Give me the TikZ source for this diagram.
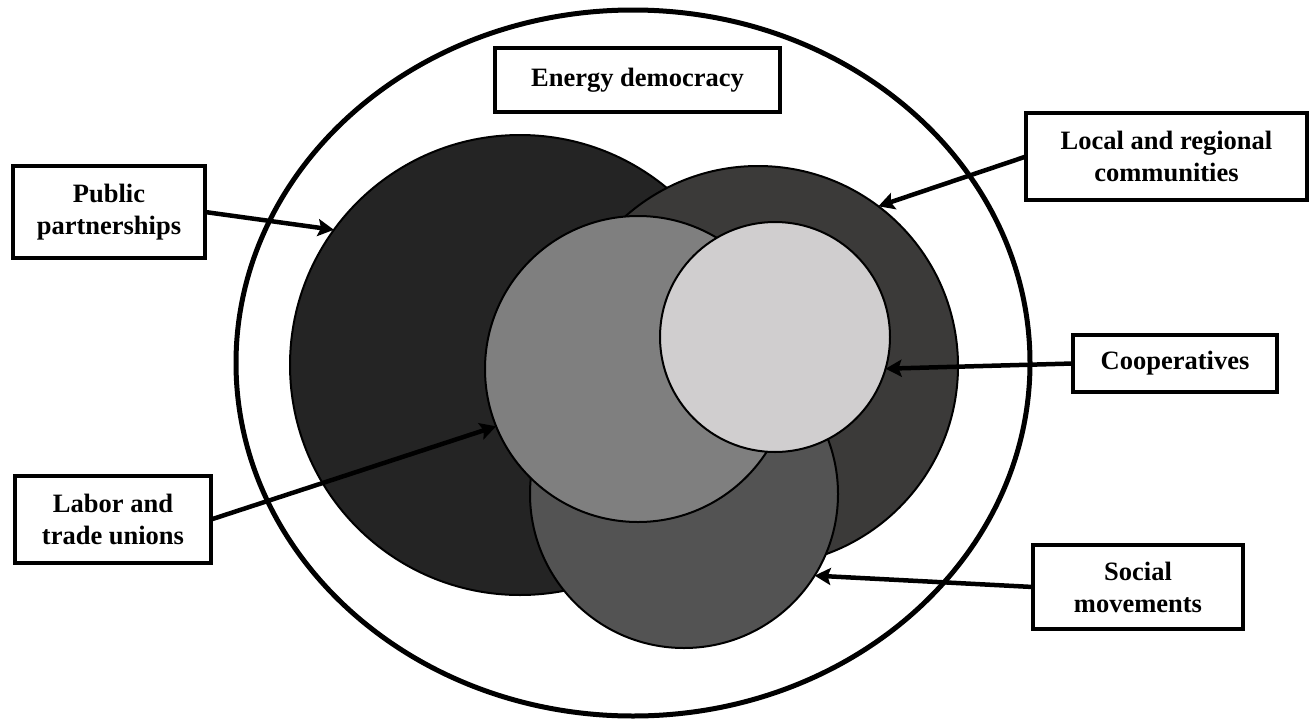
\documentclass[tikz,border=0pt]{standalone}
\usepackage{fontspec}
\setmainfont{Liberation Serif}
\usetikzlibrary{arrows.meta,shapes.geometric}
\definecolor{cpub}{HTML}{242424}
\definecolor{cloc}{HTML}{3B3A39}
\definecolor{csoc}{HTML}{535353}
\definecolor{clab}{HTML}{7F7F7F}
\definecolor{ccoop}{HTML}{D0CECF}
\tikzset{
  label box/.style={draw, line width=3.5pt, fill=white, inner sep=0pt, outer sep=0pt,
    align=center, font=\bfseries\fontsize{26.5}{32}\selectfont},
  disc/.style={circle, draw, line width=2pt, inner sep=0pt, outer sep=0pt},
  pointer/.style={line width=4.5pt, -{Stealth[length=16pt,width=17pt,inset=3pt]}},
}
\begin{document}
\begin{tikzpicture}[x=1pt,y=-1pt]
\useasboundingbox (0,0) rectangle (1312,723);
% outer ellipse
\node[ellipse, draw, line width=5pt, inner sep=0pt, minimum width=794pt, minimum height=706pt] (ed) at (633,363) {};
% circles
\node[disc, fill=cpub, minimum size=460pt] (pub) at (520,365) {};
\node[disc, fill=cloc, minimum size=400pt] (loc) at (758,366) {};
\node[disc, fill=csoc, minimum size=308pt] (soc) at (684,494) {};
\node[disc, fill=clab, minimum size=306pt] (lab) at (638,369) {};
\node[disc, fill=ccoop, minimum size=230pt] (coop) at (775,337) {};
% boxes
\node[label box, minimum width=285pt, minimum height=64pt] (bed) at (637.5,80) {Energy democracy};
\node[label box, minimum width=192pt, minimum height=92pt] (bpub) at (109,212) {Public\\partnerships};
\node[label box, minimum width=281pt, minimum height=87pt] (bloc) at (1166.5,156.5) {Local and regional\\communities};
\node[label box, minimum width=204pt, minimum height=57pt] (bcoop) at (1175,363.5) {Cooperatives};
\node[label box, minimum width=196pt, minimum height=87pt] (blab) at (113,519.5) {Labor and\\trade unions};
\node[label box, minimum width=210pt, minimum height=84pt] (bsoc) at (1138,587) {Social\\movements};
% arrows
\draw[pointer] (bpub.east) -- (pub.144.2);
\draw[pointer] (bloc.west) -- (loc.53.6);
\draw[pointer] (bcoop.west) -- (coop.-16.7);
\draw[pointer] (blab.east) -- (lab.202.5);
\draw[pointer] (bsoc.west) -- (soc.-32.2);
\end{tikzpicture}
\end{document}
